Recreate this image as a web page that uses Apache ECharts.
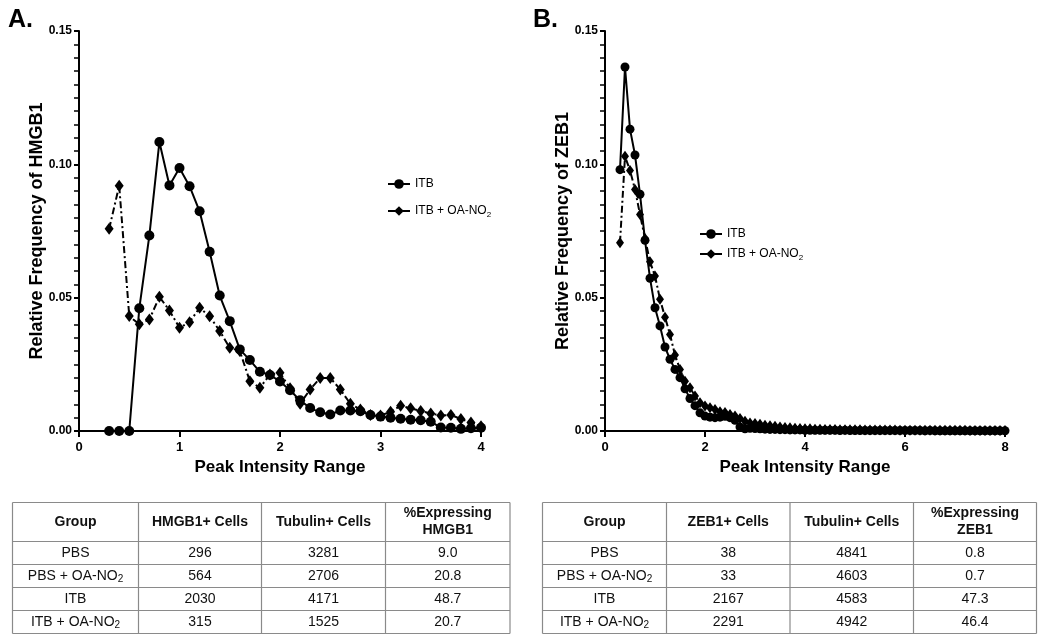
<!DOCTYPE html>
<html><head><meta charset="utf-8">
<script src="https://cdn.jsdelivr.net/npm/echarts@6/dist/echarts.min.js"></script>
<style>html,body{margin:0;padding:0;background:#fff}#c{width:1050px;height:636px}</style>
</head><body><div id="c"></div>
<script>
// ---------- Panel A data ----------
const xA = [0.3,0.4,0.5,0.6,0.7,0.8,0.9,1.0,1.1,1.2,1.3,1.4,1.5,1.6,1.7,1.8,1.9,2.0,2.1,2.2,2.3,2.4,2.5,2.6,2.7,2.8,2.9,3.0,3.1,3.2,3.3,3.4,3.5,3.6,3.7,3.8,3.9,4.0];
const itbA = [0,0,0,0.046,0.0733,0.1084,0.0921,0.0986,0.0918,0.0824,0.0672,0.0508,0.0412,0.0306,0.0266,0.0222,0.021,0.0186,0.0153,0.0115,0.0086,0.007,0.0062,0.0077,0.0077,0.0074,0.006,0.0054,0.005,0.0046,0.0042,0.004,0.0035,0.0013,0.0012,0.0008,0.001,0.0012];
const oaA = [0.0758,0.092,0.0431,0.040,0.0418,0.0503,0.0452,0.0387,0.0408,0.0462,0.043,0.0375,0.0312,0.030,0.0187,0.0162,0.0212,0.0218,0.016,0.0102,0.0156,0.0199,0.0199,0.0156,0.0102,0.0081,0.006,0.0058,0.0072,0.0095,0.0085,0.0075,0.0066,0.0058,0.006,0.0045,0.0032,0.0018];

// ---------- Panel B data ----------
const xB = [0.3,0.4,0.5,0.6,0.7,0.8,0.9,1.0,1.1,1.2,1.3,1.4,1.5,1.6,1.7,1.8,1.9,2.0,2.1,2.2,2.3,2.4,2.5,2.6,2.7,2.8,2.9,3.0,3.1,3.2,3.3,3.4,3.5,3.6,3.7,3.8,3.9,4.0,
  4.1,4.2,4.3,4.4,4.5,4.6,4.7,4.8,4.9,5.0,5.1,5.2,5.3,5.4,5.5,5.6,5.7,5.8,5.9,6.0,6.1,6.2,6.3,6.4,6.5,6.6,6.7,6.8,6.9,7.0,7.1,7.2,7.3,7.4,7.5,7.6,7.7,7.8,7.9,8.0];
const itbB = [0.098,0.1365,0.1132,0.1035,0.0888,0.0715,0.0573,0.0462,0.0394,0.0315,0.0269,0.0231,0.020,0.0158,0.0122,0.0095,0.0068,0.0056,0.0052,0.005,0.0052,0.0055,0.005,0.004,0.0015,0.0008,0.001,0.0009,0.0008,0.0007,0.0006,0.0006,0.0005,0.0005,0.0004,0.0004,0.0004,0.0003,
  0.0003,0.0003,0.0003,0.0003,0.0003,0.0003,0.0002,0.0003,0.0002,0.0002,0.0002,0.0002,0.0002,0.0002,0.0002,0.0002,0.0002,0.0002,0.0002,0.0002,0.0002,0.0002,0.0002,0.0001,0.0002,0.0001,0.0001,0.0001,0.0001,0.0001,0.0001,0.0001,0.0001,0.0001,0.0001,0.0001,0.0001,0.0001,0.0001,0.0001];
const oaB = [0.0706,0.103,0.0977,0.0906,0.0812,0.0722,0.0635,0.0581,0.0494,0.0427,0.0362,0.0285,0.0231,0.0187,0.0162,0.0131,0.0106,0.0094,0.0087,0.0081,0.0072,0.0069,0.0062,0.0056,0.0047,0.0037,0.003,0.0028,0.0025,0.0022,0.002,0.0018,0.0015,0.0013,0.0012,0.001,0.0009,0.0008,
  0.0008,0.0007,0.0007,0.0006,0.0006,0.0006,0.0005,0.0005,0.0005,0.0005,0.0005,0.0004,0.0004,0.0004,0.0004,0.0004,0.0004,0.0004,0.0003,0.0003,0.0003,0.0003,0.0003,0.0003,0.0003,0.0003,0.0003,0.0003,0.0003,0.0003,0.0003,0.0003,0.0002,0.0002,0.0002,0.0002,0.0002,0.0002,0.0002,0.0002];

// ---------- Tables ----------
const headerA = ['Group','HMGB1+ Cells','Tubulin+ Cells','%Expressing\nHMGB1'];
const rowsA = [['PBS','296','3281','9.0'],['PBS + OA-NO2','564','2706','20.8'],['ITB','2030','4171','48.7'],['ITB + OA-NO2','315','1525','20.7']];
const headerB = ['Group','ZEB1+ Cells','Tubulin+ Cells','%Expressing\nZEB1'];
const rowsB = [['PBS','38','4841','0.8'],['PBS + OA-NO2','33','4603','0.7'],['ITB','2167','4583','47.3'],['ITB + OA-NO2','2291','4942','46.4']];

const seriesNames = ['ITB','ITB + OA-NO2'];
const yTicks = [0, 0.05, 0.10, 0.15];

const F = '"Liberation Sans", Arial, Helvetica, sans-serif';
const chart = echarts.init(document.getElementById('c'));

function subRich(s){ return s.endsWith('NO2') ? '{n|' + s.slice(0,-1) + '}{s|2}' : '{n|' + s + '}'; }

function yAxisCfg(gi, name){
  return { type:'value', gridIndex:gi, min:yTicks[0], max:yTicks[yTicks.length-1], interval:yTicks[1]-yTicks[0],
    name:name, nameLocation:'middle', nameGap:33, nameMoveOverlap:false,
    nameTextStyle:{fontFamily:F, fontWeight:'bold', fontSize:18, color:'#000'},
    axisLine:{show:true, lineStyle:{color:'#000', width:2}},
    axisTick:{show:true, length:5, lineStyle:{color:'#000', width:2}},
    minorTick:{show:true, splitNumber:10, length:5, lineStyle:{color:'#000', width:1.5}},
    splitLine:{show:false}, minorSplitLine:{show:false},
    axisLabel:{formatter:v=>v.toFixed(2), fontFamily:F, fontWeight:'bold', fontSize:12, color:'#000', margin:7} };
}
function xAxisCfg(gi, max, interval){
  return { type:'value', gridIndex:gi, min:0, max:max, interval:interval,
    name:'Peak Intensity Range', nameLocation:'middle', nameGap:28, nameMoveOverlap:false,
    nameTextStyle:{fontFamily:F, fontWeight:'bold', fontSize:17, color:'#000'},
    axisLine:{show:true, lineStyle:{color:'#000', width:2}},
    axisTick:{show:true, length:6, lineStyle:{color:'#000', width:2}},
    splitLine:{show:false},
    axisLabel:{fontFamily:F, fontWeight:'bold', fontSize:13, color:'#000', margin:10} };
}
function lineSeries(name, gi, xs, ys, isDiamond, size){
  return { type:'line', name:name, xAxisIndex:gi, yAxisIndex:gi,
    data: xs.map((x,i)=>[x, ys[i]]),
    symbol: isDiamond ? 'diamond' : 'circle', symbolSize: size,
    showAllSymbol:true, animation:false,
    lineStyle:{color:'#000', width:2, type: isDiamond ? [7,3,2,3] : 'solid'},
    itemStyle:{color:'#000'}, z: isDiamond ? 2 : 3 };
}
function buildTable(colX, rowY, header, rows){
  const els = [];
  const ln = '#8a8a8a';
  colX.forEach(x => els.push({type:'line', shape:{x1:x, y1:rowY[0], x2:x, y2:rowY[rowY.length-1]}, style:{stroke:ln, lineWidth:1.2}}));
  rowY.forEach(y => els.push({type:'line', shape:{x1:colX[0], y1:y, x2:colX[colX.length-1], y2:y}, style:{stroke:ln, lineWidth:1.2}}));
  header.forEach((h,j) => els.push({type:'text', x:(colX[j]+colX[j+1])/2, y:(rowY[0]+rowY[1])/2,
    style:{text:h, align:'center', verticalAlign:'middle', fontFamily:F, fontWeight:'bold', fontSize:14, lineHeight:17, fill:'#111'}}));
  rows.forEach((r,i) => r.forEach((v,j) => els.push({type:'text', x:(colX[j]+colX[j+1])/2, y:(rowY[i+1]+rowY[i+2])/2,
    style:{text:subRich(v), align:'center', verticalAlign:'middle', fill:'#111',
      rich:{n:{fontFamily:F, fontSize:14, fill:'#111'}, s:{fontFamily:F, fontSize:10, fill:'#111', padding:[7,0,0,0]}}}})));
  return els;
}

const rowY = [502.5, 541.5, 564.5, 587.5, 610.5, 633.5];
const legendText = {fontFamily:F, fontSize:12, color:'#000',
  rich:{n:{fontFamily:F, fontSize:12, color:'#000'}, s:{fontFamily:F, fontSize:8, color:'#000', padding:[7,0,0,0]}}};

chart.setOption({
  animation:false,
  backgroundColor:'#fff',
  title:[
    {text:'A.', left:3, top:3, textStyle:{fontFamily:F, fontWeight:'bold', fontSize:25, color:'#000'}},
    {text:'B.', left:528, top:3, textStyle:{fontFamily:F, fontWeight:'bold', fontSize:25, color:'#000'}}
  ],
  grid:[
    {left:79, top:31, width:402, height:400},
    {left:605, top:31, width:400, height:400}
  ],
  xAxis:[xAxisCfg(0, 4, 1), xAxisCfg(1, 8, 2)],
  yAxis:[yAxisCfg(0, 'Relative Frequency of HMGB1'), yAxisCfg(1, 'Relative Frequency of ZEB1')],
  legend:[
    {data:seriesNames, orient:'vertical', left:382, top:173, itemWidth:22, itemHeight:12, itemGap:15,
     textStyle:legendText, formatter:subRich, selectedMode:false},
    {data:seriesNames, orient:'vertical', left:694, top:223, itemWidth:22, itemHeight:12, itemGap:8,
     textStyle:legendText, formatter:subRich, selectedMode:false}
  ],
  series:[
    lineSeries(seriesNames[1], 0, xA, oaA, true, [9,12]),
    lineSeries(seriesNames[0], 0, xA, itbA, false, 10),
    lineSeries(seriesNames[1], 1, xB, oaB, true, [8,11]),
    lineSeries(seriesNames[0], 1, xB, itbB, false, 9)
  ],
  graphic: buildTable([12.5,138.5,261.5,385.5,510], rowY, headerA, rowsA)
    .concat(buildTable([542.5,666.5,790,913.5,1036.5], rowY, headerB, rowsB))
});
</script></body></html>
